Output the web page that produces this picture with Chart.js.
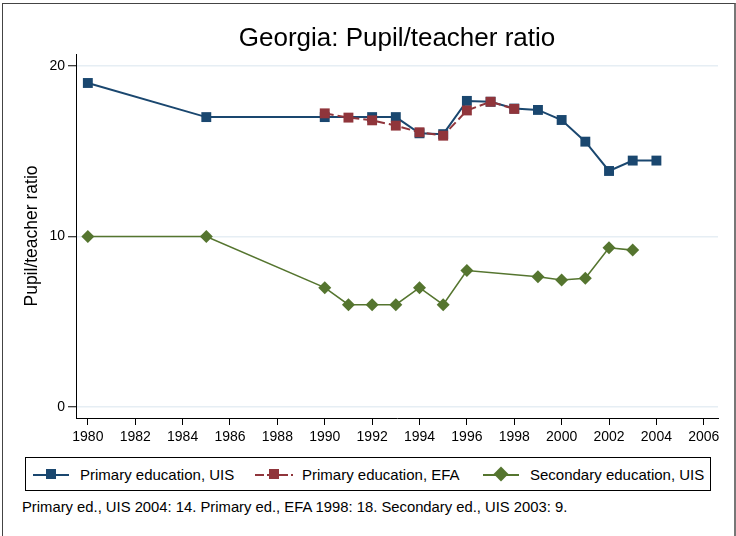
<!DOCTYPE html>
<html>
<head>
<meta charset="utf-8">
<script src="https://cdn.jsdelivr.net/npm/chart.js@4/dist/chart.umd.min.js"></script>
<style>
    body { margin: 0; background: #fff; font-family: "Liberation Sans", Arial, sans-serif; }
    #wrap { position: relative; width: 736px; height: 536px; overflow: hidden; background: #fff; }
    #frame { position: absolute; left: 2px; top: 3px; width: 731px; height: 560px; border: 1px solid #444; border-right: 2px solid #777; }
    #titulo { position: absolute; left: 76px; width: 642px; top: 22px; height: 30px; line-height: 30px; text-align: center; font-size: 26px; color: #000; white-space: nowrap; }
    #chartBox { position: absolute; left: 0; top: 0; width: 736px; height: 450px; }
    #leyenda { position: absolute; left: 25px; top: 457px; width: 684px; height: 32px; border: 1px solid #000; font-size: 15px; color: #000; }
    .item { position: absolute; top: 8px; height: 17px; line-height: 17px; white-space: nowrap; }
    .marca { position: absolute; top: 8px; width: 36px; height: 2px; }
    .cuadro { position: absolute; top: 3px; width: 10px; height: 10px; }
    #nota { position: absolute; left: 22px; top: 499px; font-size: 14.8px; color: #000; }
</style>
</head>
<body>
<div id="wrap">
    <div id="frame"></div>
    <div id="chartBox"><canvas id="chartRatio" width="736" height="450"></canvas></div>
    <div id="titulo">Georgia: Pupil/teacher ratio</div>
    <div id="leyenda">
        <div class="item" style="left:7px;width:230px;">
            <div class="marca" style="left:0;background:#1a476f;"></div>
            <div class="cuadro" style="left:13px;background:#1a476f;"></div>
            <span style="position:absolute;left:47px;">Primary education, UIS</span>
        </div>
        <div class="item" style="left:229px;width:230px;">
            <div class="marca" style="left:0;width:38px;background:repeating-linear-gradient(90deg,#90353b 0 9px,transparent 9px 12px);"></div>
            <div class="cuadro" style="left:14px;background:#90353b;"></div>
            <span style="position:absolute;left:47px;">Primary education, EFA</span>
        </div>
        <div class="item" style="left:457px;width:230px;">
            <div class="marca" style="left:0;background:#55752f;"></div>
            <div class="cuadro" style="left:13px;background:#55752f;transform:rotate(45deg) scale(1.05);"></div>
            <span style="position:absolute;left:47px;">Secondary education, UIS</span>
        </div>
    </div>
    <div id="nota">Primary ed., UIS 2004: 14. Primary ed., EFA 1998: 18. Secondary ed., UIS 2003: 9.</div>
</div>
<script>
// Datos del gráfico
const aniosPrimUIS = [1980, 1985, 1990, 1992, 1993, 1994, 1995, 1996, 1997, 1998, 1999, 2000, 2001, 2002, 2003, 2004];
const valoresPrimUIS = [19.0, 17.0, 17.0, 17.0, 17.0, 16.05, 16.0, 17.95, 17.9, 17.5, 17.42, 16.83, 15.56, 13.84, 14.45, 14.45];

const aniosPrimEFA = [1990, 1991, 1992, 1993, 1994, 1995, 1996, 1997, 1998];
const valoresPrimEFA = [17.22, 16.97, 16.81, 16.5, 16.11, 15.91, 17.39, 17.9, 17.48];

const aniosSecUIS = [1980, 1985, 1990, 1991, 1992, 1993, 1994, 1995, 1996, 1999, 2000, 2001, 2002, 2003];
const valoresSecUIS = [10.0, 10.0, 7.0, 6.0, 6.0, 6.0, 7.0, 6.0, 8.0, 7.64, 7.45, 7.55, 9.34, 9.2];

const ticksX = [1980, 1982, 1984, 1986, 1988, 1990, 1992, 1994, 1996, 1998, 2000, 2002, 2004, 2006];
const ticksY = [0, 10, 20];

const colores = {
    azul: '#1a476f',
    rojo: '#90353b',
    verde: '#55752f'
};

// Combinar años y valores en puntos
function armarPuntos(anios, valores) {
    return anios.map((a, i) => ({ x: a, y: valores[i] }));
}

let chartRatio = null;

document.addEventListener('DOMContentLoaded', function() {
    initChartRatio();
});

function initChartRatio() {
    const ctx = document.getElementById('chartRatio');
    const fuente = "'Liberation Sans', Arial, sans-serif";

    chartRatio = new Chart(ctx, {
        type: 'line',
        data: {
            datasets: [{
                label: 'Primary education, UIS',
                data: armarPuntos(aniosPrimUIS, valoresPrimUIS),
                borderColor: colores.azul,
                backgroundColor: colores.azul,
                borderWidth: 2,
                pointStyle: 'rect',
                pointRadius: 7,
                pointBorderWidth: 0,
                tension: 0,
                order: 2
            }, {
                label: 'Primary education, EFA',
                data: armarPuntos(aniosPrimEFA, valoresPrimEFA),
                borderColor: colores.rojo,
                backgroundColor: colores.rojo,
                borderWidth: 2,
                borderDash: [9, 4],
                pointStyle: 'rect',
                pointRadius: 7,
                pointBorderWidth: 0,
                tension: 0,
                order: 1
            }, {
                label: 'Secondary education, UIS',
                data: armarPuntos(aniosSecUIS, valoresSecUIS),
                borderColor: colores.verde,
                backgroundColor: colores.verde,
                borderWidth: 1.6,
                pointStyle: 'rectRot',
                pointRadius: 6.5,
                pointBorderWidth: 0,
                tension: 0,
                order: 3
            }]
        },
        options: {
            responsive: false,
            animation: false,
            layout: {
                // el título va en HTML, centrado sobre el área del gráfico
                padding: { left: 0, right: 18, top: 54, bottom: 0 }
            },
            plugins: {
                legend: { display: false },
                tooltip: { enabled: false },
                title: { display: false }
            },
            scales: {
                x: {
                    type: 'linear',
                    min: 1979.5,
                    max: 2006.6,
                    afterBuildTicks: scale => {
                        scale.ticks = ticksX.map(v => ({ value: v }));
                    },
                    afterFit: scale => { scale.height = 32; },
                    border: { display: true, color: '#000', width: 1 },
                    grid: {
                        drawOnChartArea: false,
                        drawTicks: true,
                        tickLength: 7,
                        tickColor: '#000'
                    },
                    ticks: {
                        color: '#000',
                        padding: 4,
                        maxRotation: 0,
                        autoSkip: false,
                        font: { family: fuente, size: 14 },
                        callback: v => String(v)
                    }
                },
                y: {
                    type: 'linear',
                    min: -0.645,
                    max: 20.7,
                    afterBuildTicks: scale => {
                        scale.ticks = ticksY.map(v => ({ value: v }));
                    },
                    afterFit: scale => { scale.width = 76; },
                    border: { display: true, color: '#000', width: 1 },
                    grid: {
                        color: '#e6eef4',
                        lineWidth: 1.5,
                        drawTicks: true,
                        tickLength: 8,
                        tickColor: '#000',
                        tickWidth: 1
                    },
                    ticks: {
                        color: '#000',
                        padding: 3,
                        font: { family: fuente, size: 14 },
                        callback: v => String(v)
                    },
                    title: {
                        display: true,
                        text: 'Pupil/teacher ratio',
                        color: '#000',
                        font: { family: fuente, size: 17.5 },
                        padding: { top: 22, bottom: 0 }
                    }
                }
            }
        }
    });
}
</script>
</body>
</html>
